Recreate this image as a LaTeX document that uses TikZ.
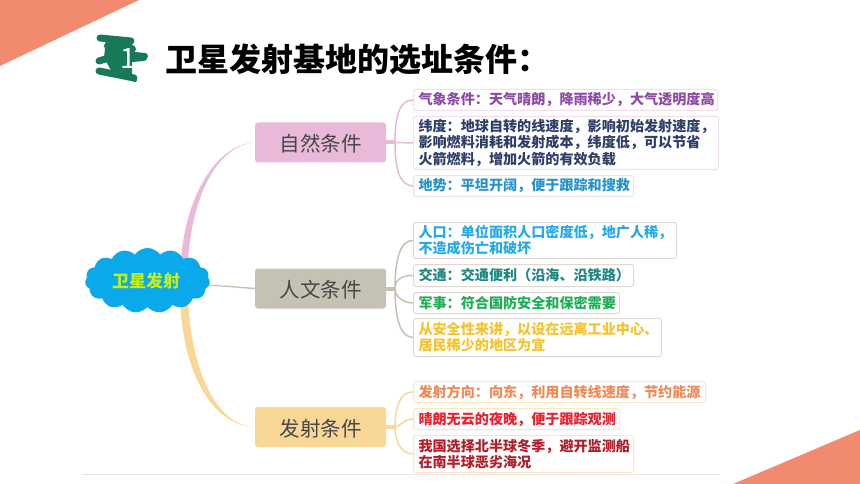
\documentclass[tikz,border=0pt]{standalone}
\usepackage{fontspec}
\setmainfont{Noto Sans CJK SC}
\usetikzlibrary{shapes.symbols,backgrounds}
\definecolor{salmon}{HTML}{F28A70}
\definecolor{brush}{HTML}{17795A}
\definecolor{pinkc}{HTML}{E8B9D9}
\definecolor{grayc}{HTML}{C5C1B3}
\definecolor{orac}{HTML}{F8D797}
\definecolor{cloudc}{HTML}{09A9EA}
\tikzset{
  x=1pt,y=-1pt,
  leaf/.style={draw=#1,line width=1pt,rounded corners=2.5pt,fill=white,anchor=north west,
    inner xsep=5pt,inner ysep=0pt,align=left,font=\fontsize{14.1}{16.2}\selectfont\bfseries},
  cat/.style={fill=#1,rounded corners=3pt,minimum width=131pt,minimum height=40pt,inner sep=0pt,
    text height=20pt,text depth=2pt,text=black!72,font=\fontsize{20.5}{22}\selectfont},
  twig/.style={draw=#1,line width=1.5pt,line cap=round},
  stub/.style={draw=#1,line width=4pt},
  brushstroke/.style={draw=brush,line cap=round,line width=#1}
}
\newcommand{\leafbox}[7]{% name,x,y,w,h,colour border,text
  \node[leaf=#6,text width=#4pt-10pt,minimum height=#5pt] (#1) at (#2,#3) {#7};}
\begin{document}
\begin{tikzpicture}
\useasboundingbox (0,0) rectangle (860,484);
\begin{scope}[on background layer]
\fill[white] (0,0) rectangle (860,484);
\end{scope}
\fill[salmon] (0,0) -- (139,0) -- (0,66) -- cycle;
\fill[salmon] (860,430) -- (860,484) -- (733,484) -- cycle;
\draw[black!10,line width=1pt] (82,474) -- (720,474);

% brush icon
\fill[brush] (106,38) -- (132,42) -- (132,76) -- (112,72) -- (104,58) -- cycle;
\draw[brushstroke=7pt] (100,38) -- (131,41);
\draw[brushstroke=8pt] (108,46) -- (132,49);
\draw[brushstroke=6pt] (125,54) -- (145,56);
\draw[brushstroke=6pt] (132,59) -- (144,58);
\draw[brushstroke=7pt] (99,61) -- (118,55);
\draw[brushstroke=7pt] (99,71) -- (134,78);
\draw[brushstroke=4pt] (122,74) -- (135,80);
\node[text=white,font=\fontsize{28}{28}\selectfont,inner sep=0pt] (num) at (128,59) {1};

\node[anchor=west,inner sep=0pt,font=\fontsize{32}{34}\selectfont\bfseries,text=black] (title) at (165,59.5) {卫星发射基地的选址条件：};

% root and categories
\node[cloud,cloud puffs=15,cloud puff arc=110,aspect=2,fill=cloudc,minimum width=125pt,minimum height=65pt,inner sep=0pt,
  text={rgb,255:red,196;green,240;blue,26},font=\fontsize{17}{18}\selectfont\bfseries] (root) at (147.5,280.5) {\hspace*{-3pt}卫星发射};
\node[cat=pinkc] (c1) at (320.5,142.5) {自然条件};
\node[cat=grayc] (c2) at (320.5,288.5) {人文条件};
\node[cat=orac] (c3) at (320.5,427) {发射条件};

% leaves
\leafbox{a1}{413}{89}{304}{21}{pinkc!50}{\textcolor[HTML]{8E4AA6}{气象条件：天气晴朗，降雨稀少，大气透明度高}}
\leafbox{a2}{413}{116}{305}{53}{pinkc!50}{\textcolor[HTML]{2E3E68}{纬度：地球自转的线速度，影响初始发射速度，\\影响燃料消耗和发射成本，纬度低，可以节省\\火箭燃料，增加火箭的有效负载}}
\leafbox{a3}{413}{175}{220}{21}{pinkc!50}{\textcolor[HTML]{2393CC}{地势：平坦开阔，便于跟踪和搜救}}
\leafbox{b1}{413}{222}{263}{36}{grayc!60}{\textcolor[HTML]{27A9E6}{人口：单位面积人口密度低，地广人稀，\\不造成伤亡和破坏}}
\leafbox{b2}{413}{264}{220}{22}{grayc!60}{\textcolor[HTML]{1E8784}{交通：交通便利（沿海、沿铁路）}}
\leafbox{b3}{413}{292}{206}{21}{grayc!60}{\textcolor[HTML]{20AE55}{军事：符合国防安全和保密需要}}
\leafbox{b4}{413}{318}{248}{38}{grayc!60}{\textcolor[HTML]{F5C32C}{从安全性来讲，以设在远离工业中心、\\居民稀少的地区为宜}}
\leafbox{d1}{413}{381}{292}{21}{orac!60}{\textcolor[HTML]{EE8A58}{发射方向：向东，利用自转线速度，节约能源}}
\leafbox{d2}{413}{408}{206}{21}{orac!60}{\textcolor[HTML]{E8202E}{晴朗无云的夜晚，便于跟踪观测}}
\leafbox{d3}{413}{435}{220}{37}{orac!60}{\textcolor[HTML]{B01E2A}{我国选择北半球冬季，避开监测船\\在南半球恶劣海况}}

% connectors behind the nodes
\begin{scope}[on background layer]
\fill[pinkc] (181,262) .. controls (184,205) and (212,145) .. (c1.west) .. controls (213,146) and (191,205) .. (188,262) -- cycle;
\fill[grayc] (root.center) ++(55,2) -- (c2.west) ++(0,-0.8) -- ++(0,1.6) -- (root.center) ++(55,13) -- cycle;
\fill[orac] (180,298) .. controls (182,365) and (208,425) .. (c3.west) .. controls (213,425) and (191,365) .. (188,298) -- cycle;
\end{scope}

% category to leaf brackets
\coordinate (h1) at (395,142.5);
\coordinate (h2) at (395,288.5);
\coordinate (h3) at (395,427);
\begin{scope}[on background layer]
\draw[stub=pinkc] (c1.east) -- (h1);
\draw[stub=grayc] (c2.east) -- (h2);
\draw[stub=orac] (c3.east) -- (h3);
\draw[twig=pinkc] (h1) .. controls (395,115) and (400,99.5) .. (a1.west);
\draw[twig=pinkc] (h1) -- (a2.west);
\draw[twig=pinkc] (h1) .. controls (395,170) and (400,185.5) .. (a3.west);
\draw[twig=grayc] (h2) .. controls (395,260) and (400,240) .. (b1.west);
\draw[twig=grayc] (h2) .. controls (395,280) and (402,275) .. (b2.west);
\draw[twig=grayc] (h2) .. controls (395,296) and (402,302.5) .. (b3.west);
\draw[twig=grayc] (h2) .. controls (395,318) and (400,337) .. (b4.west);
\draw[twig=orac] (h3) .. controls (395,408) and (400,391.5) .. (d1.west);
\draw[twig=orac] (h3) .. controls (400,427) and (404,418.5) .. (d2.west);
\draw[twig=orac] (h3) .. controls (395,440) and (400,453.5) .. (d3.west);
\end{scope}
\end{tikzpicture}
\end{document}
